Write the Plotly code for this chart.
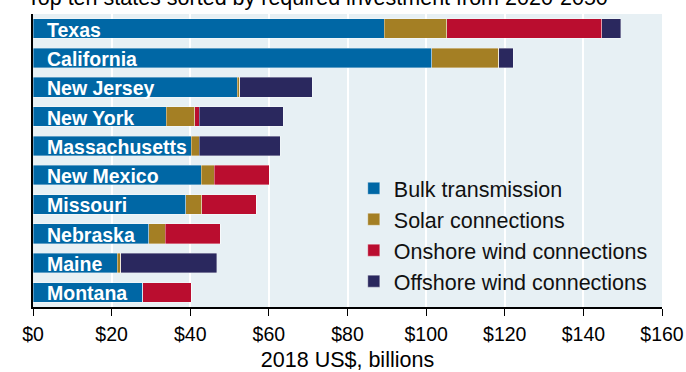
import plotly.graph_objects as go

states = ["Texas", "California", "New Jersey", "New York", "Massachusetts",
          "New Mexico", "Missouri", "Nebraska", "Maine", "Montana"]
bulk = [89.3, 101.4, 51.9, 33.9, 40.2, 42.8, 38.8, 29.5, 21.4, 27.9]
solar = [15.9, 17.1, 0.7, 7.3, 2.1, 3.3, 4.1, 4.1, 0.9, 0.0]
onshore = [39.5, 0.0, 0.0, 1.1, 0.0, 14.0, 13.9, 14.0, 0.0, 12.4]
offshore = [4.8, 3.6, 18.4, 21.4, 20.6, 0.0, 0.0, 0.0, 24.4, 0.0]

series = [
    ("Bulk transmission", bulk, "#0067A5"),
    ("Solar connections", solar, "#A47F24"),
    ("Onshore wind connections", onshore, "#BA0D2F"),
    ("Offshore wind connections", offshore, "#2A285E"),
]

title_text = "Top ten states sorted by required investment from 2020-2050"
x_title = "2018 US$, billions"
x_ticks = [0, 20, 40, 60, 80, 100, 120, 140, 160]
x_ticklabels = ["$" + str(v) for v in x_ticks]

FONT = "Liberation Sans, Arial, sans-serif"

fig = go.Figure()
for name, vals, color in series:
    fig.add_trace(go.Bar(
        y=states, x=vals, name=name, orientation="h",
        marker=dict(color=color, line=dict(color="rgba(255,255,255,0.45)", width=0.8)),
        width=0.67, hoverinfo="x+y+name",
    ))

for s in states:
    fig.add_annotation(
        x=0, y=s, xref="x", yref="y", text="<b>" + s + "</b>",
        showarrow=False, xanchor="left", yanchor="middle", xshift=12, yshift=-1,
        font=dict(family=FONT, size=19.5, color="white"),
    )

fig.add_annotation(
    x=0.453, y=1.0068, xref="paper", yref="paper", text=title_text,
    showarrow=False, xanchor="center", yanchor="bottom",
    font=dict(family=FONT, size=21.5, color="black"),
)

fig.update_layout(
    width=686, height=372,
    margin=dict(l=33, r=24, t=14, b=65, autoexpand=False),
    barmode="stack",
    paper_bgcolor="white",
    plot_bgcolor="#E7F0F4",
    font=dict(family=FONT, color="black"),
    showlegend=True,
    legend=dict(
        x=0.51, y=0.475, xanchor="left", yanchor="top",
        bgcolor="rgba(0,0,0,0)", font=dict(family=FONT, size=21.5, color="#111111"),
        traceorder="normal", itemclick=False, itemdoubleclick=False,
    ),
    bargap=0.33,
)

fig.update_xaxes(
    range=[0, 160], tickvals=x_ticks, ticktext=x_ticklabels,
    showgrid=True, gridcolor="white", gridwidth=1.5,
    showline=True, linecolor="black", linewidth=1.5,
    ticks="outside", ticklen=7, tickcolor="black", tickwidth=1.2,
    ticklabelstandoff=2,
    tickfont=dict(family=FONT, size=19.5, color="black"),
    title=dict(text=x_title, font=dict(family=FONT, size=21.5, color="black"), standoff=27),
    zeroline=False, fixedrange=True, automargin=False,
)
fig.update_yaxes(
    autorange="reversed", showticklabels=False, ticks="",
    showgrid=False, showline=True, linecolor="black", linewidth=2,
    zeroline=False, fixedrange=True, automargin=False,
)

# remove the browser's default 8px body margin so the figure fills the window exactly
fig.write_html(
    "out.html",
    config={"displayModeBar": False},
    post_script="document.body.style.margin='0';document.body.style.overflow='hidden';",
)
